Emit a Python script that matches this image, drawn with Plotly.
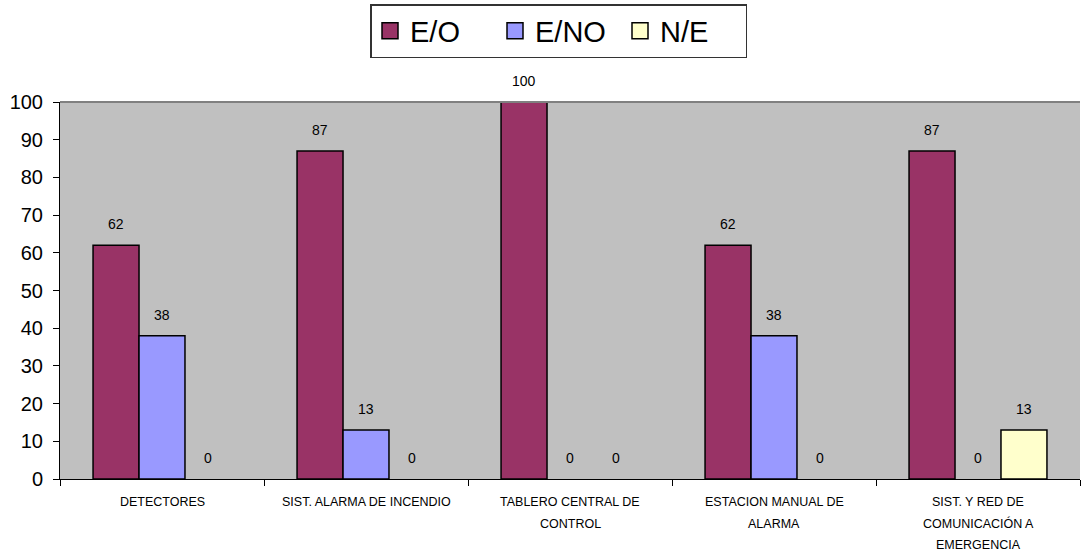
import plotly.graph_objects as go

categories = ["DETECTORES", "SIST. ALARMA DE INCENDIO", "TABLERO CENTRAL DE<br>CONTROL",
              "ESTACION MANUAL DE<br>ALARMA", "SIST. Y RED DE<br>COMUNICACIÓN A<br>EMERGENCIA"]
series_names = ["E/O", "E/NO", "N/E"]
eo = [62, 87, 100, 62, 87]
eno = [38, 13, 0, 38, 0]
ne = [0, 0, 0, 0, 13]
colors = ["#993366", "#9999FF", "#FFFFCC"]
y_ticks = [0, 10, 20, 30, 40, 50, 60, 70, 80, 90, 100]

series = [eo, eno, ne]
W, H = 1083, 554
ML, MR, MT, MB = 60, 3, 102, 75
FONT = "Arial, Liberation Sans, sans-serif"

fig = go.Figure()
for name, vals, col in zip(series_names, series, colors):
    fig.add_trace(go.Bar(x=categories, y=vals, name=name, legendgroup=name, showlegend=False,
                         marker=dict(color=col,
                                     line=dict(color="black",
                                               width=[1.5 if v > 0 else 0 for v in vals]))))
# legend-only entries (square swatches with black outline, like the reference)
for name, col in zip(series_names, colors):
    fig.add_trace(go.Scatter(x=[None], y=[None], mode="markers", name=name, legendgroup=name,
                             marker=dict(symbol="square", size=16, color=col,
                                         line=dict(color="black", width=1.5))))

plot_w = W - ML - MR
cat_w = plot_w / len(categories)
bargap = 0.324
bar_w = cat_w * (1 - bargap) / len(series)

annotations = []
for si, vals in enumerate(series):
    for ci, v in enumerate(vals):
        annotations.append(dict(x=categories[ci], y=v, xref="x", yref="y", text=str(v),
                                showarrow=False, xshift=(si - 1) * bar_w, yshift=21,
                                yanchor="middle", font=dict(size=14, color="black", family=FONT)))
for ci, cat in enumerate(categories):
    for li, line in enumerate(cat.split("<br>")):
        annotations.append(dict(x=cat, y=0, xref="x", yref="y", text=line, showarrow=False,
                                yshift=-(23 + li * 21.7), yanchor="middle",
                                font=dict(size=12.5, color="black", family=FONT)))

fig.update_layout(
    width=W, height=H,
    margin=dict(l=ML, r=MR, t=MT, b=MB, pad=0),
    paper_bgcolor="white", plot_bgcolor="#C0C0C0",
    barmode="group", bargap=bargap, bargroupgap=0,
    font=dict(family=FONT, color="black"),
    showlegend=True,
    legend=dict(orientation="h", xref="container", yref="container",
                x=558.5 / W, xanchor="center", y=1 - 4 / H, yanchor="top",
                bordercolor="#333333", borderwidth=1.5, bgcolor="white",
                font=dict(size=29, family=FONT, color="black"),
                itemwidth=30, tracegroupgap=0, itemsizing="trace",
                entrywidth=80, entrywidthmode="pixels"),
    annotations=annotations,
    shapes=[dict(type="line", xref="paper", yref="paper", x0=0, x1=1, y0=1, y1=1,
                 line=dict(color="#808080", width=2))],
)
fig.update_xaxes(showticklabels=False, ticks="outside", tickson="boundaries", ticklen=6,
                 tickcolor="black", showline=True, linecolor="black", linewidth=1,
                 showgrid=False, zeroline=False, fixedrange=True)
fig.update_yaxes(range=[0, 100], tickvals=y_ticks, ticks="outside", ticklen=6, tickcolor="black",
                 showline=True, linecolor="black", linewidth=1, showgrid=False, zeroline=False,
                 tickfont=dict(size=20, family=FONT, color="black"), ticklabelstandoff=6)

fig.write_html("out.html")
